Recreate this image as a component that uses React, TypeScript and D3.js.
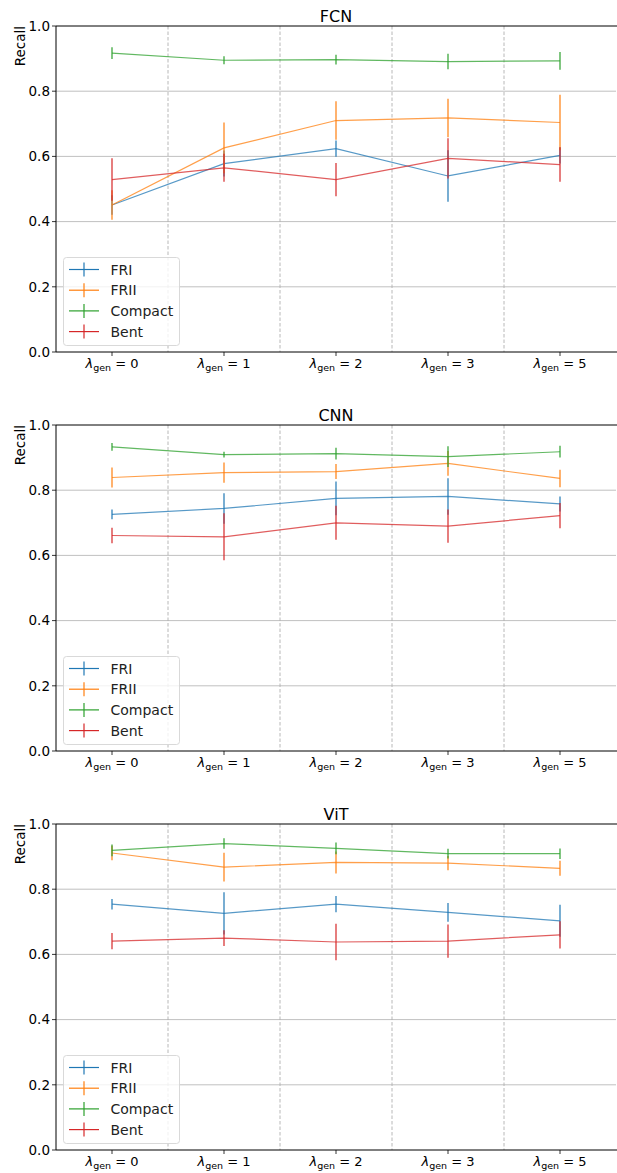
import * as d3 from 'd3';

const MARGIN = { top: 26, left: 56 };
const PANEL_STEP = 399;
const PLOT_W = 560;
const PLOT_H = 326;
const WIDTH = 617;
const HEIGHT = 1173;
const FONT = 'DejaVu Sans, sans-serif';

const CATEGORIES = ['0', '1', '2', '3', '5'];
const CLASSES = ['FRI', 'FRII', 'Compact', 'Bent'];
const COLORS = ['#1f77b4', '#ff7f0e', '#2ca02c', '#d62728'];
const Y_TICKS = [0, 0.2, 0.4, 0.6, 0.8, 1.0];
const MODELS = ['FCN', 'CNN', 'ViT'];

// mean recall per class (rows follow CLASSES), one column per lambda_gen
const FCN_MEAN = [
  [0.451, 0.578, 0.624, 0.54, 0.603],
  [0.451, 0.626, 0.71, 0.718, 0.704],
  [0.917, 0.895, 0.897, 0.891, 0.893],
  [0.529, 0.565, 0.529, 0.594, 0.575],
];
const FCN_ERR = [
  [0.03, 0.04, 0.025, 0.079, 0.025],
  [0.045, 0.078, 0.059, 0.059, 0.085],
  [0.018, 0.012, 0.015, 0.024, 0.027],
  [0.065, 0.043, 0.051, 0.062, 0.053],
];

const CNN_MEAN = [
  [0.726, 0.744, 0.775, 0.781, 0.758],
  [0.839, 0.854, 0.857, 0.882, 0.836],
  [0.933, 0.909, 0.912, 0.903, 0.918],
  [0.661, 0.657, 0.7, 0.69, 0.722],
];
const CNN_ERR = [
  [0.015, 0.047, 0.052, 0.056, 0.023],
  [0.031, 0.031, 0.023, 0.038, 0.027],
  [0.012, 0.009, 0.018, 0.032, 0.018],
  [0.024, 0.072, 0.052, 0.051, 0.039],
];

const VIT_MEAN = [
  [0.754, 0.726, 0.754, 0.729, 0.703],
  [0.911, 0.868, 0.882, 0.88, 0.864],
  [0.919, 0.94, 0.925, 0.909, 0.909],
  [0.641, 0.65, 0.638, 0.641, 0.66],
];
const VIT_ERR = [
  [0.016, 0.065, 0.025, 0.029, 0.049],
  [0.022, 0.044, 0.034, 0.022, 0.023],
  [0.018, 0.016, 0.018, 0.015, 0.016],
  [0.025, 0.024, 0.056, 0.051, 0.042],
];

const MEANS = [FCN_MEAN, CNN_MEAN, VIT_MEAN];
const ERRS = [FCN_ERR, CNN_ERR, VIT_ERR];

const xScale = d3.scalePoint<string>().domain(CATEGORIES).range([0, PLOT_W]).padding(0.5);
const yScale = d3.scaleLinear().domain([0, 1]).range([PLOT_H, 0]);

type PanelProps = { title: string; means: number[][]; errs: number[][]; offsetY: number };

const Panel = ({ title, means, errs, offsetY }: PanelProps) => {
  const step = xScale.step();
  const boundaries = CATEGORIES.slice(1).map((c) => (xScale(c) || 0) - step / 2);
  const lineBuilder = d3
    .line<number>()
    .x((_, i) => xScale(CATEGORIES[i]) || 0)
    .y((d) => yScale(d));

  return (
    <g transform={`translate(${MARGIN.left},${offsetY})`} fontFamily={FONT}>
      {/* horizontal grid */}
      {Y_TICKS.filter((t) => t > 0 && t < 1).map((t) => (
        <line key={t} x1={0} x2={PLOT_W} y1={yScale(t)} y2={yScale(t)} stroke="#b0b0b0" strokeWidth={0.8} />
      ))}
      {/* dashed separators between lambda values */}
      {boundaries.map((b) => (
        <line key={b} x1={b} x2={b} y1={0} y2={PLOT_H} stroke="#b0b0b0" strokeWidth={0.9} strokeDasharray="3.5,2" />
      ))}

      {means.map((m, ci) => (
        <g key={CLASSES[ci]}>
          <path d={lineBuilder(m) || ''} fill="none" stroke={COLORS[ci]} strokeWidth={1.2} opacity={0.75} />
          {m.map((v, i) => (
            <line
              key={i}
              x1={xScale(CATEGORIES[i])}
              x2={xScale(CATEGORIES[i])}
              y1={yScale(v - errs[ci][i])}
              y2={yScale(v + errs[ci][i])}
              stroke={COLORS[ci]}
              strokeWidth={1.2}
            />
          ))}
        </g>
      ))}

      {/* spines */}
      <line x1={0} x2={0} y1={0} y2={PLOT_H} stroke="black" strokeWidth={1} />
      <line x1={0} x2={PLOT_W + 2} y1={PLOT_H} y2={PLOT_H} stroke="black" strokeWidth={1} />
      <line x1={0} x2={PLOT_W + 2} y1={0} y2={0} stroke="black" strokeWidth={1} />

      {/* y ticks */}
      {Y_TICKS.map((t) => (
        <g key={t} transform={`translate(0,${yScale(t)})`}>
          <line x1={-4} x2={0} stroke="black" strokeWidth={0.8} />
          <text x={-6} dy="0.35em" textAnchor="end" fontSize={13.5} fill="#000">
            {t.toFixed(1)}
          </text>
        </g>
      ))}

      {/* x ticks */}
      {CATEGORIES.map((c) => (
        <g key={c} transform={`translate(${xScale(c)},${PLOT_H})`}>
          <line y1={0} y2={4} stroke="black" strokeWidth={0.8} />
          <text y={15.5} textAnchor="middle" fontSize={13} fill="#000">
            <tspan fontStyle="italic">λ</tspan>
            <tspan fontSize={9.5} dy={3}>gen</tspan>
            <tspan dy={-3}> = {c}</tspan>
          </text>
        </g>
      ))}

      <text x={PLOT_W / 2} y={-4} textAnchor="middle" fontSize={16} fill="#000">
        {title}
      </text>
      <text transform={`translate(-36,0) rotate(-90)`} textAnchor="end" dy="0.35em" fontSize={13.5} fill="#000">
        Recall
      </text>

      {/* legend */}
      <g transform={`translate(7,${PLOT_H - 95})`}>
        <rect x={0.5} y={0.5} width={116} height={88} rx={3} fill="white" fillOpacity={0.8} stroke="#d5d5d5" strokeWidth={0.9} />
        {CLASSES.map((name, ci) => (
          <g key={name} transform={`translate(0,${12.5 + ci * 20.7})`}>
            <line x1={6} x2={36} y1={0} y2={0} stroke={COLORS[ci]} strokeWidth={1.2} />
            <line x1={21} x2={21} y1={-7} y2={7} stroke={COLORS[ci]} strokeWidth={1.2} />
            <text x={47.5} dy="0.36em" fontSize={14} fill="#222">
              {name}
            </text>
          </g>
        ))}
      </g>
    </g>
  );
};

export default function App() {
  return (
    <svg width={WIDTH} height={HEIGHT} style={{ position: 'absolute', left: 0, top: 0, background: 'white' }}>
      {MODELS.map((m, i) => (
        <Panel key={m} title={m} means={MEANS[i]} errs={ERRS[i]} offsetY={MARGIN.top + i * PANEL_STEP} />
      ))}
    </svg>
  );
}
